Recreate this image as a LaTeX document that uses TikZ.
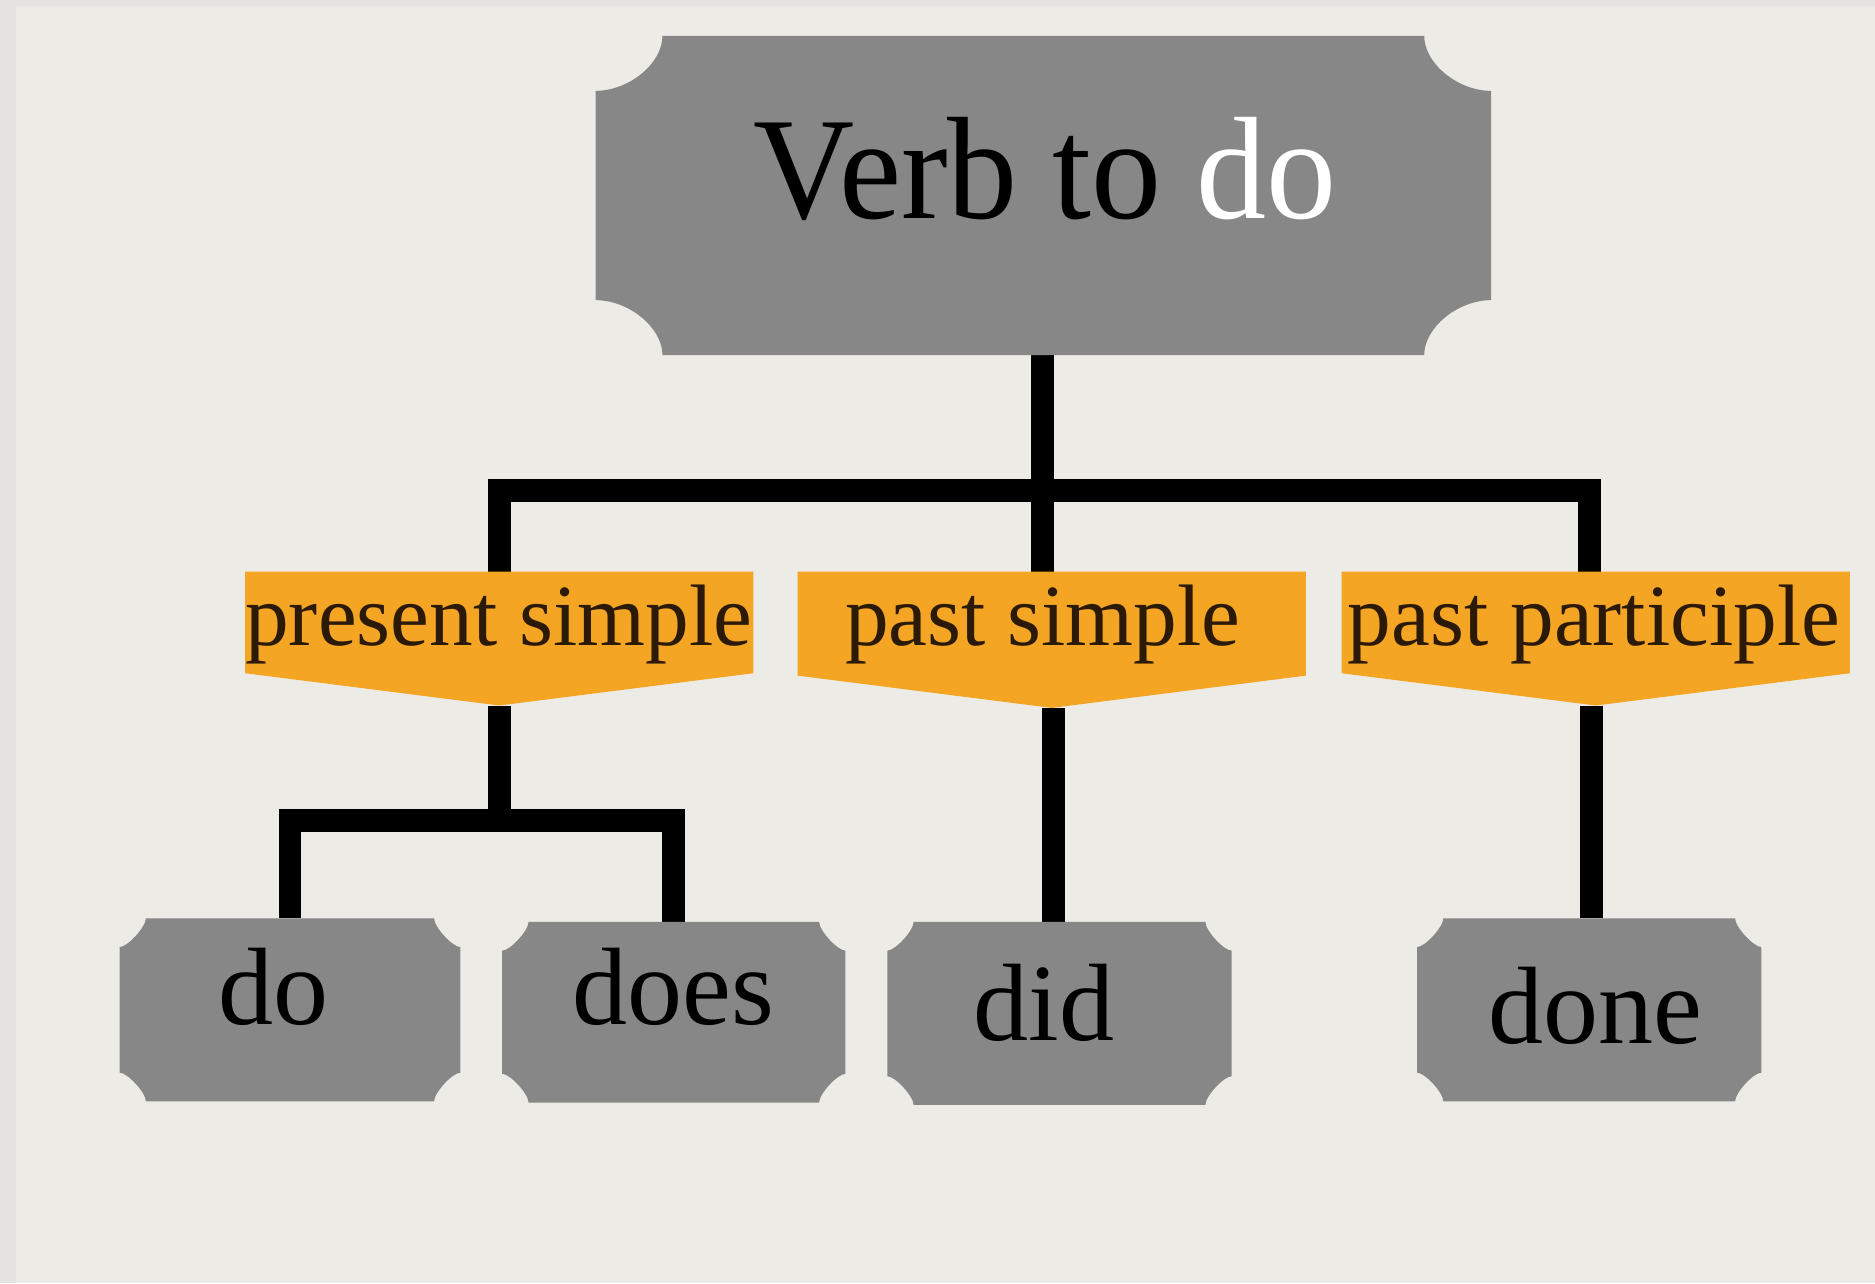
\documentclass[tikz,border=0pt]{standalone}
\usepackage{fontspec}
\setmainfont{Liberation Serif}
\usetikzlibrary{calc}
\definecolor{bgouter}{HTML}{E4E3DF}
\definecolor{bginner}{HTML}{ECEBE6}
\definecolor{boxgray}{HTML}{878787}
\definecolor{labelorange}{HTML}{F4A524}
\definecolor{labeltext}{HTML}{2B1A08}
\newcommand\PQplaque[7]{% x0 y0 x1 y1 rx ry curvature
  \pgfmathsetmacro\PQxa{#1}\pgfmathsetmacro\PQya{-#2}%
  \pgfmathsetmacro\PQxb{#3}\pgfmathsetmacro\PQyb{-#4}%
  \pgfmathsetmacro\PQrx{#5}\pgfmathsetmacro\PQry{#6}%
  \pgfmathsetmacro\PQkx{#7*#5}\pgfmathsetmacro\PQky{#7*#6}%
  \fill[boxgray] (\PQxa+\PQrx,\PQya) -- (\PQxb-\PQrx,\PQya)
    .. controls (\PQxb-\PQrx,\PQya-\PQky) and (\PQxb-\PQkx,\PQya-\PQry) .. (\PQxb,\PQya-\PQry)
    -- (\PQxb,\PQyb+\PQry)
    .. controls (\PQxb-\PQkx,\PQyb+\PQry) and (\PQxb-\PQrx,\PQyb+\PQky) .. (\PQxb-\PQrx,\PQyb)
    -- (\PQxa+\PQrx,\PQyb)
    .. controls (\PQxa+\PQrx,\PQyb+\PQky) and (\PQxa+\PQkx,\PQyb+\PQry) .. (\PQxa,\PQyb+\PQry)
    -- (\PQxa,\PQya-\PQry)
    .. controls (\PQxa+\PQkx,\PQya-\PQry) and (\PQxa+\PQrx,\PQya-\PQky) .. cycle;}
\newcommand\PQchevron[5]{% x0 ytop x1 yside ypoint
  \pgfmathsetmacro\PQxa{#1}\pgfmathsetmacro\PQxb{#3}%
  \pgfmathsetmacro\PQxc{(#1+#3)/2}%
  \fill[labelorange] (\PQxa,-#2) -- (\PQxb,-#2) -- (\PQxb,-#4) -- (\PQxc,-#5) -- (\PQxa,-#4) -- cycle;}
\tikzset{
  hold/.style={inner sep=0pt, outer sep=0pt, draw=none, fill=none},
  conn/.style={line width=19pt, black, line join=miter, line cap=butt},
  toptext/.style={anchor=base, inner sep=0pt, font=\fontsize{122}{122}\selectfont},
  labtext/.style={anchor=base, inner sep=0pt, text=labeltext, font=\fontsize{73}{73}\selectfont},
  bottext/.style={anchor=base, inner sep=0pt, font=\fontsize{92}{92}\selectfont},
}
\begin{document}
\begin{tikzpicture}[x=1pt, y=1pt]
\fill[bgouter] (0,0) rectangle (1568,-1073);
\fill[bginner] (13,-5) rectangle (1568,-1073);
\useasboundingbox (0,0) rectangle (1568,-1073);
% invisible named holders for boxes
\node[hold, minimum width=749pt, minimum height=267pt] (top) at (872.5,-163.5) {};
\node[hold, minimum width=425pt, minimum height=112pt] (pres) at (417.5,-534) {};
\node[hold, minimum width=425pt, minimum height=114pt] (psim) at (879.5,-535) {};
\node[hold, minimum width=425pt, minimum height=112pt] (ppar) at (1334.5,-534) {};
\node[hold, minimum width=285pt, minimum height=153pt] (bdo) at (242.5,-844.5) {};
\node[hold, minimum width=287pt, minimum height=151pt] (bdoes) at (563.5,-846.5) {};
\node[hold, minimum width=288pt, minimum height=153pt] (bdid) at (886,-847.5) {};
\node[hold, minimum width=288pt, minimum height=153pt] (bdone) at (1329,-844.5) {};
\coordinate (jtop) at (872,-410);
\coordinate (jlow) at (417.5,-686);
% connectors
\draw[conn] ([xshift=-0.5pt]top.south) -- ([xshift=-0.5pt]top.south |- psim.north);
\draw[conn] (pres.north) |- (jtop) -| ([xshift=-5pt]ppar.north);
\draw[conn] (pres.south) -- (jlow);
\draw[conn] (bdo.north) |- (jlow) -| (bdoes.north);
\draw[conn] ([xshift=1.5pt]psim.south) -- ([xshift=1.5pt]psim.south |- bdid.north);
\draw[conn] ([xshift=-3.5pt]ppar.south) -- ([xshift=-3.5pt]ppar.south |- bdone.north);
% shapes
\PQplaque{498}{30}{1247}{297}{56}{46}{0.5}
\PQchevron{205}{478}{630}{563}{590}
\PQchevron{667}{478}{1092}{565}{592}
\PQchevron{1122}{478}{1547}{563}{590}
\PQplaque{100}{768}{385}{921}{22}{24}{0.3}
\PQplaque{420}{771}{707}{922}{22}{24}{0.3}
\PQplaque{742}{771}{1030}{924}{22}{24}{0.3}
\PQplaque{1185}{768}{1473}{921}{22}{24}{0.3}
% texts
\node[toptext] (ttop) at (874,-183) {\scalebox{0.96}[1]{Verb to \textcolor{white}{do}}};
\node[labtext] (tpres) at (417,-540) {present simple};
\node[labtext] (tpsim) at (872,-540) {past simple};
\node[labtext] (tppar) at (1333,-540) {past participle};
\node[bottext] (tdo) at (229,-857) {do};
\node[bottext] (tdoes) at (563,-857) {does};
\node[bottext] (tdid) at (873,-870) {did};
\node[bottext] (tdone) at (1334,-873) {done};
\end{tikzpicture}
\end{document}
